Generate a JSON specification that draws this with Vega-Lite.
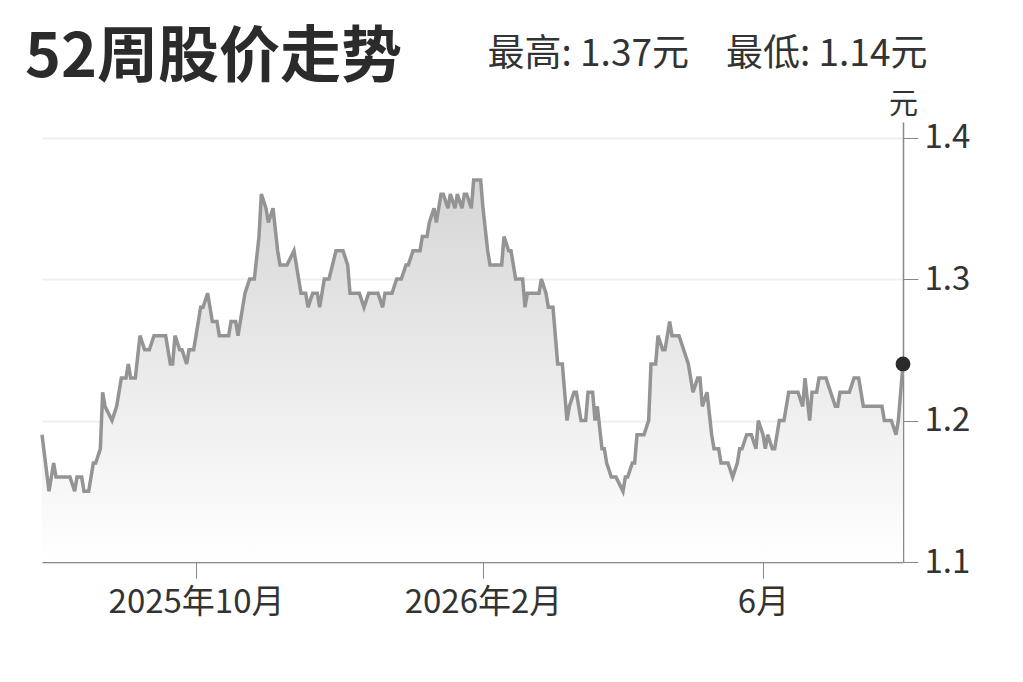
{
  "$schema": "https://vega.github.io/schema/vega-lite/v6.json",
  "width": 861,
  "height": 440,
  "autosize": {"type": "none"},
  "padding": {"left": 42, "top": 122, "right": 120, "bottom": 120},
  "background": "white",
  "config": {"view": {"stroke": null}, "font": "Noto Sans CJK SC"},
  "title": {
    "text": "52周股价走势",
    "subtitle": "\u200b\u3000\u3000\u3000\u3000\u3000\u3000\u3000\u3000\u3000\u3000\u3000\u3000\u2002最高: 1.37元\u3000最低: 1.14元",
    "anchor": "start",
    "frame": "group",
    "dx": -17,
    "offset": 0,
    "font": "Noto Sans CJK SC",
    "fontSize": 61,
    "fontWeight": "bold",
    "color": "#2b2b2b",
    "subtitleFont": "Noto Sans CJK SC",
    "subtitleFontSize": 37,
    "subtitleColor": "#333333",
    "subtitlePadding": -53
  },
  "data": {
    "values": [
      {"date": "2025-07-27", "price": 1.19},
      {"date": "2025-07-30", "price": 1.15},
      {"date": "2025-08-01", "price": 1.17},
      {"date": "2025-08-02", "price": 1.16},
      {"date": "2025-08-08", "price": 1.16},
      {"date": "2025-08-10", "price": 1.15},
      {"date": "2025-08-11", "price": 1.16},
      {"date": "2025-08-13", "price": 1.16},
      {"date": "2025-08-14", "price": 1.15},
      {"date": "2025-08-16", "price": 1.15},
      {"date": "2025-08-18", "price": 1.17},
      {"date": "2025-08-19", "price": 1.17},
      {"date": "2025-08-21", "price": 1.18},
      {"date": "2025-08-22", "price": 1.22},
      {"date": "2025-08-23", "price": 1.21},
      {"date": "2025-08-26", "price": 1.20},
      {"date": "2025-08-28", "price": 1.21},
      {"date": "2025-08-30", "price": 1.23},
      {"date": "2025-09-01", "price": 1.23},
      {"date": "2025-09-02", "price": 1.24},
      {"date": "2025-09-03", "price": 1.23},
      {"date": "2025-09-05", "price": 1.23},
      {"date": "2025-09-07", "price": 1.26},
      {"date": "2025-09-09", "price": 1.25},
      {"date": "2025-09-11", "price": 1.25},
      {"date": "2025-09-13", "price": 1.26},
      {"date": "2025-09-18", "price": 1.26},
      {"date": "2025-09-20", "price": 1.24},
      {"date": "2025-09-21", "price": 1.24},
      {"date": "2025-09-22", "price": 1.26},
      {"date": "2025-09-24", "price": 1.25},
      {"date": "2025-09-25", "price": 1.25},
      {"date": "2025-09-27", "price": 1.24},
      {"date": "2025-09-28", "price": 1.25},
      {"date": "2025-09-30", "price": 1.25},
      {"date": "2025-10-01", "price": 1.26},
      {"date": "2025-10-03", "price": 1.28},
      {"date": "2025-10-04", "price": 1.28},
      {"date": "2025-10-06", "price": 1.29},
      {"date": "2025-10-07", "price": 1.28},
      {"date": "2025-10-08", "price": 1.27},
      {"date": "2025-10-10", "price": 1.27},
      {"date": "2025-10-11", "price": 1.26},
      {"date": "2025-10-15", "price": 1.26},
      {"date": "2025-10-16", "price": 1.27},
      {"date": "2025-10-18", "price": 1.27},
      {"date": "2025-10-19", "price": 1.26},
      {"date": "2025-10-21", "price": 1.28},
      {"date": "2025-10-22", "price": 1.29},
      {"date": "2025-10-24", "price": 1.30},
      {"date": "2025-10-26", "price": 1.30},
      {"date": "2025-10-28", "price": 1.33},
      {"date": "2025-10-29", "price": 1.36},
      {"date": "2025-10-31", "price": 1.35},
      {"date": "2025-11-01", "price": 1.34},
      {"date": "2025-11-03", "price": 1.35},
      {"date": "2025-11-05", "price": 1.32},
      {"date": "2025-11-06", "price": 1.31},
      {"date": "2025-11-09", "price": 1.31},
      {"date": "2025-11-12", "price": 1.32},
      {"date": "2025-11-13", "price": 1.31},
      {"date": "2025-11-15", "price": 1.29},
      {"date": "2025-11-17", "price": 1.29},
      {"date": "2025-11-18", "price": 1.28},
      {"date": "2025-11-20", "price": 1.29},
      {"date": "2025-11-22", "price": 1.29},
      {"date": "2025-11-23", "price": 1.28},
      {"date": "2025-11-25", "price": 1.30},
      {"date": "2025-11-27", "price": 1.30},
      {"date": "2025-11-30", "price": 1.32},
      {"date": "2025-12-03", "price": 1.32},
      {"date": "2025-12-05", "price": 1.31},
      {"date": "2025-12-06", "price": 1.29},
      {"date": "2025-12-10", "price": 1.29},
      {"date": "2025-12-12", "price": 1.28},
      {"date": "2025-12-14", "price": 1.29},
      {"date": "2025-12-18", "price": 1.29},
      {"date": "2025-12-20", "price": 1.28},
      {"date": "2025-12-21", "price": 1.29},
      {"date": "2025-12-24", "price": 1.29},
      {"date": "2025-12-26", "price": 1.30},
      {"date": "2025-12-28", "price": 1.30},
      {"date": "2025-12-30", "price": 1.31},
      {"date": "2025-12-31", "price": 1.31},
      {"date": "2026-01-02", "price": 1.32},
      {"date": "2026-01-05", "price": 1.32},
      {"date": "2026-01-06", "price": 1.33},
      {"date": "2026-01-08", "price": 1.33},
      {"date": "2026-01-09", "price": 1.34},
      {"date": "2026-01-11", "price": 1.35},
      {"date": "2026-01-12", "price": 1.34},
      {"date": "2026-01-14", "price": 1.36},
      {"date": "2026-01-15", "price": 1.36},
      {"date": "2026-01-17", "price": 1.35},
      {"date": "2026-01-18", "price": 1.36},
      {"date": "2026-01-20", "price": 1.35},
      {"date": "2026-01-21", "price": 1.36},
      {"date": "2026-01-23", "price": 1.35},
      {"date": "2026-01-24", "price": 1.36},
      {"date": "2026-01-25", "price": 1.36},
      {"date": "2026-01-27", "price": 1.35},
      {"date": "2026-01-28", "price": 1.37},
      {"date": "2026-01-31", "price": 1.37},
      {"date": "2026-02-01", "price": 1.35},
      {"date": "2026-02-03", "price": 1.32},
      {"date": "2026-02-04", "price": 1.31},
      {"date": "2026-02-09", "price": 1.31},
      {"date": "2026-02-10", "price": 1.33},
      {"date": "2026-02-12", "price": 1.32},
      {"date": "2026-02-13", "price": 1.32},
      {"date": "2026-02-15", "price": 1.30},
      {"date": "2026-02-18", "price": 1.30},
      {"date": "2026-02-19", "price": 1.28},
      {"date": "2026-02-20", "price": 1.29},
      {"date": "2026-02-25", "price": 1.29},
      {"date": "2026-02-26", "price": 1.30},
      {"date": "2026-02-28", "price": 1.29},
      {"date": "2026-03-01", "price": 1.28},
      {"date": "2026-03-03", "price": 1.28},
      {"date": "2026-03-05", "price": 1.24},
      {"date": "2026-03-07", "price": 1.24},
      {"date": "2026-03-09", "price": 1.20},
      {"date": "2026-03-10", "price": 1.21},
      {"date": "2026-03-12", "price": 1.22},
      {"date": "2026-03-13", "price": 1.22},
      {"date": "2026-03-15", "price": 1.20},
      {"date": "2026-03-17", "price": 1.20},
      {"date": "2026-03-18", "price": 1.22},
      {"date": "2026-03-20", "price": 1.22},
      {"date": "2026-03-21", "price": 1.20},
      {"date": "2026-03-22", "price": 1.21},
      {"date": "2026-03-24", "price": 1.18},
      {"date": "2026-03-25", "price": 1.18},
      {"date": "2026-03-26", "price": 1.17},
      {"date": "2026-03-28", "price": 1.16},
      {"date": "2026-03-30", "price": 1.16},
      {"date": "2026-04-02", "price": 1.15},
      {"date": "2026-04-03", "price": 1.16},
      {"date": "2026-04-04", "price": 1.16},
      {"date": "2026-04-06", "price": 1.17},
      {"date": "2026-04-07", "price": 1.17},
      {"date": "2026-04-08", "price": 1.19},
      {"date": "2026-04-11", "price": 1.19},
      {"date": "2026-04-13", "price": 1.20},
      {"date": "2026-04-14", "price": 1.24},
      {"date": "2026-04-16", "price": 1.24},
      {"date": "2026-04-17", "price": 1.26},
      {"date": "2026-04-19", "price": 1.25},
      {"date": "2026-04-20", "price": 1.25},
      {"date": "2026-04-22", "price": 1.27},
      {"date": "2026-04-23", "price": 1.26},
      {"date": "2026-04-26", "price": 1.26},
      {"date": "2026-04-28", "price": 1.25},
      {"date": "2026-04-30", "price": 1.24},
      {"date": "2026-05-02", "price": 1.22},
      {"date": "2026-05-04", "price": 1.23},
      {"date": "2026-05-05", "price": 1.23},
      {"date": "2026-05-06", "price": 1.21},
      {"date": "2026-05-08", "price": 1.22},
      {"date": "2026-05-10", "price": 1.19},
      {"date": "2026-05-11", "price": 1.18},
      {"date": "2026-05-13", "price": 1.18},
      {"date": "2026-05-14", "price": 1.17},
      {"date": "2026-05-17", "price": 1.17},
      {"date": "2026-05-19", "price": 1.16},
      {"date": "2026-05-21", "price": 1.17},
      {"date": "2026-05-22", "price": 1.18},
      {"date": "2026-05-23", "price": 1.18},
      {"date": "2026-05-25", "price": 1.19},
      {"date": "2026-05-27", "price": 1.19},
      {"date": "2026-05-29", "price": 1.18},
      {"date": "2026-05-30", "price": 1.20},
      {"date": "2026-06-01", "price": 1.19},
      {"date": "2026-06-02", "price": 1.18},
      {"date": "2026-06-03", "price": 1.19},
      {"date": "2026-06-05", "price": 1.18},
      {"date": "2026-06-06", "price": 1.18},
      {"date": "2026-06-08", "price": 1.20},
      {"date": "2026-06-10", "price": 1.20},
      {"date": "2026-06-12", "price": 1.22},
      {"date": "2026-06-16", "price": 1.22},
      {"date": "2026-06-18", "price": 1.21},
      {"date": "2026-06-19", "price": 1.23},
      {"date": "2026-06-21", "price": 1.20},
      {"date": "2026-06-22", "price": 1.22},
      {"date": "2026-06-24", "price": 1.22},
      {"date": "2026-06-25", "price": 1.23},
      {"date": "2026-06-28", "price": 1.23},
      {"date": "2026-06-30", "price": 1.22},
      {"date": "2026-07-02", "price": 1.21},
      {"date": "2026-07-03", "price": 1.21},
      {"date": "2026-07-04", "price": 1.22},
      {"date": "2026-07-08", "price": 1.22},
      {"date": "2026-07-10", "price": 1.23},
      {"date": "2026-07-12", "price": 1.23},
      {"date": "2026-07-14", "price": 1.21},
      {"date": "2026-07-22", "price": 1.21},
      {"date": "2026-07-23", "price": 1.20},
      {"date": "2026-07-26", "price": 1.20},
      {"date": "2026-07-28", "price": 1.19},
      {"date": "2026-07-29", "price": 1.20},
      {"date": "2026-07-31", "price": 1.24}
    ]
  },
  "encoding": {
    "x": {
      "field": "date",
      "type": "temporal",
      "scale": {
        "type": "utc",
        "domain": [
          {"year": 2025, "month": 7, "date": 27, "utc": true},
          {"year": 2026, "month": 7, "date": 31, "utc": true}
        ]
      },
      "axis": {
        "title": null,
        "grid": false,
        "values": [
          {"year": 2025, "month": 10, "date": 1, "utc": true},
          {"year": 2026, "month": 2, "date": 1, "utc": true},
          {"year": 2026, "month": 6, "date": 1, "utc": true}
        ],
        "labelExpr": "utcmonth(datum.value) == 5 ? '6月' : utcFormat(datum.value, '%Y年%-m月')",
        "domainColor": "#888888",
        "domainWidth": 1.5,
        "tickColor": "#888888",
        "tickWidth": 1,
        "tickSize": 16,
        "labelFont": "Noto Sans CJK SC",
        "labelFontSize": 33,
        "labelColor": "#333333",
        "labelPadding": 8
      }
    },
    "y": {
      "field": "price",
      "type": "quantitative",
      "scale": {"domain": [1.1, 1.411], "nice": false, "zero": false},
      "axis": {
        "orient": "right",
        "values": [1.1, 1.2, 1.3, 1.4],
        "format": ".1f",
        "grid": true,
        "gridColor": "#efefef",
        "gridWidth": 2,
        "domainColor": "#888888",
        "domainWidth": 1.5,
        "tickColor": "#888888",
        "tickSize": 15,
        "labelFont": "Noto Sans CJK SC",
        "labelFontSize": 33,
        "labelColor": "#333333",
        "labelPadding": 6,
        "title": "元",
        "titleAngle": 0,
        "titleX": 0,
        "titleY": -3,
        "titleAlign": "center",
        "titleBaseline": "bottom",
        "titleFont": "Noto Sans CJK SC",
        "titleFontSize": 29,
        "titleFontWeight": "normal",
        "titleColor": "#333333"
      }
    }
  },
  "layer": [
    {
      "mark": {
        "type": "area",
        "color": {
          "gradient": "linear",
          "x1": 0, "y1": 1, "x2": 0, "y2": 0,
          "stops": [
            {"offset": 0, "color": "#ffffff"},
            {"offset": 1, "color": "#d6d6d6"}
          ]
        }
      },
      "encoding": {"y2": {"datum": 1.1}}
    },
    {
      "mark": {"type": "line", "color": "#949494", "strokeWidth": 3.5},
      "encoding": {}
    },
    {
      "transform": [
        {"window": [{"op": "rank", "as": "r"}], "sort": [{"field": "date", "order": "descending"}]},
        {"filter": "datum.r == 1"}
      ],
      "mark": {"type": "point", "filled": true, "color": "#2b2b2b", "size": 220, "opacity": 1}
    }
  ]
}
